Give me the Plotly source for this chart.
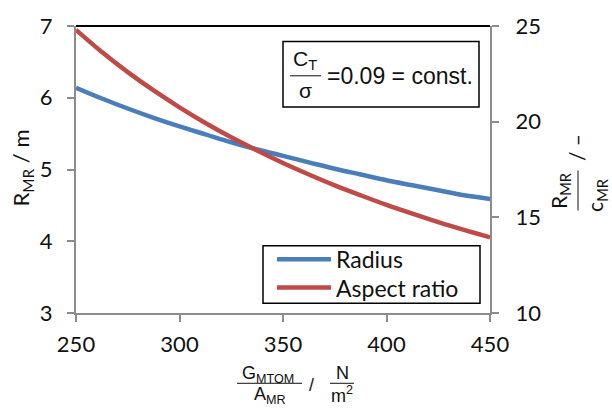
import plotly.graph_objects as go

# Data
load = [250, 262.5, 275, 287.5, 300, 312.5, 325, 337.5, 350, 362.5, 375, 387.5, 400, 412.5, 425, 437.5, 450]
radius = [6.14, 5.99, 5.85, 5.72, 5.60, 5.49, 5.38, 5.28, 5.19, 5.10, 5.01, 4.93, 4.85, 4.78, 4.71, 4.64, 4.59]
aspect = [24.80, 23.64, 22.59, 21.63, 20.75, 19.93, 19.18, 18.49, 17.84, 17.24, 16.67, 16.15, 15.65, 15.19, 14.75, 14.34, 13.95]
x_ticks = [250, 300, 350, 400, 450]
y_ticks = [3, 4, 5, 6, 7]
y2_ticks = [10, 15, 20, 25]
series_names = ["Radius", "Aspect ratio"]

W, H = 612, 412
L, R, T, B = 76, 122, 19, 99
PW, PH = W - L - R, H - T - B

def px(x):
    return (x - L) / PW

def py(y):
    return (H - B - y) / PH

BLUE = "#4a7ebb"
RED = "#be4b48"
AX = "#8c8c8c"
FONT = "Lato"
SANS = "Liberation Sans"

fig = go.Figure()
fig.add_trace(go.Scatter(x=load, y=radius, name=series_names[0], mode="lines", showlegend=False,
                         line=dict(color=BLUE, width=4.5, shape="spline")))
fig.add_trace(go.Scatter(x=load, y=aspect, name=series_names[1], mode="lines", yaxis="y2", showlegend=False,
                         line=dict(color=RED, width=4.5, shape="spline")))

axis_common = dict(showgrid=False, zeroline=False, showline=True, linecolor=AX, linewidth=2,
                   ticks="outside", tickcolor=AX, tickwidth=2, ticklen=7,
                   tickfont=dict(family=FONT, size=22, color="#111"))

fig.update_layout(
    width=W, height=H,
    margin=dict(l=L, r=R, t=T, b=B),
    plot_bgcolor="white", paper_bgcolor="white",
    xaxis=dict(range=[250, 450], tickvals=x_ticks, ticklabelstandoff=4, **axis_common),
    yaxis=dict(range=[3, 7], tickvals=y_ticks, ticklabelstandoff=10, **axis_common),
    yaxis2=dict(range=[10, 25], tickvals=y2_ticks, overlaying="y", side="right",
                ticklabelstandoff=12, **axis_common),
    showlegend=False,
)

shapes = []
anns = []

def ann(x, y, text, size, family, angle=0, xanchor="center"):
    anns.append(dict(x=px(x), y=py(y), xref="paper", yref="paper", text=text, showarrow=False,
                     xanchor=xanchor, yanchor="middle", textangle=angle,
                     font=dict(family=family, size=size, color="#111")))

def hline(x0, x1, y, color="#111", width=1):
    shapes.append(dict(type="line", xref="paper", yref="paper", x0=px(x0), x1=px(x1), y0=py(y), y1=py(y),
                       line=dict(color=color, width=width)))

# top border
shapes.append(dict(type="line", xref="paper", yref="paper", x0=0, x1=1, y0=1, y1=1,
                   line=dict(color="black", width=2)))

# constant box
shapes.append(dict(type="rect", xref="paper", yref="paper", x0=px(283), x1=px(479), y0=py(35), y1=py(102),
                   line=dict(color="black", width=1.5), fillcolor="white", layer="above"))
hline(290, 321, 70)
ann(305, 54, "C<sub>T</sub>", 21, SANS)
ann(305, 85, "σ", 21, SANS)
ann(325, 70, "=0.09 = const.", 23, SANS, xanchor="left")

# legend (drawn manually)
shapes.append(dict(type="rect", xref="paper", yref="paper", x0=px(263), x1=px(480), y0=py(244), y1=py(303),
                   line=dict(color="black", width=1.5), fillcolor="white", layer="above"))
hline(277, 331, 258, BLUE, 4.5)
hline(277, 331, 287, RED, 4.5)
ann(334, 258, series_names[0], 23, FONT, xanchor="left")
ann(334, 287, series_names[1], 23, FONT, xanchor="left")

# left title
ann(22, 165, "R<sub>MR</sub> / m", 22, FONT, angle=-90)

# right title
ann(560, 188, "R<sub>MR</sub>", 21, FONT, angle=-90)
shapes.append(dict(type="line", xref="paper", yref="paper", x0=px(578), x1=px(578), y0=py(167), y1=py(208),
                   line=dict(color="#111", width=1)))
ann(596, 192, "c<sub>MR</sub>", 21, FONT, angle=-90)
ann(576, 144, "/ –", 21, FONT, angle=-90)

# x title
ann(268, 376, "G<sub>MTOM</sub>", 18, SANS)
hline(237, 302, 385)
ann(270, 398, "A<sub>MR</sub>", 18, SANS)
ann(311, 387, "/", 18, SANS)
ann(342, 374, "N", 18, SANS)
hline(330, 354, 385)
ann(342, 397, "m<sup>2</sup>", 18, SANS)

fig.update_layout(shapes=shapes, annotations=anns)
fig.write_html("out.html")
